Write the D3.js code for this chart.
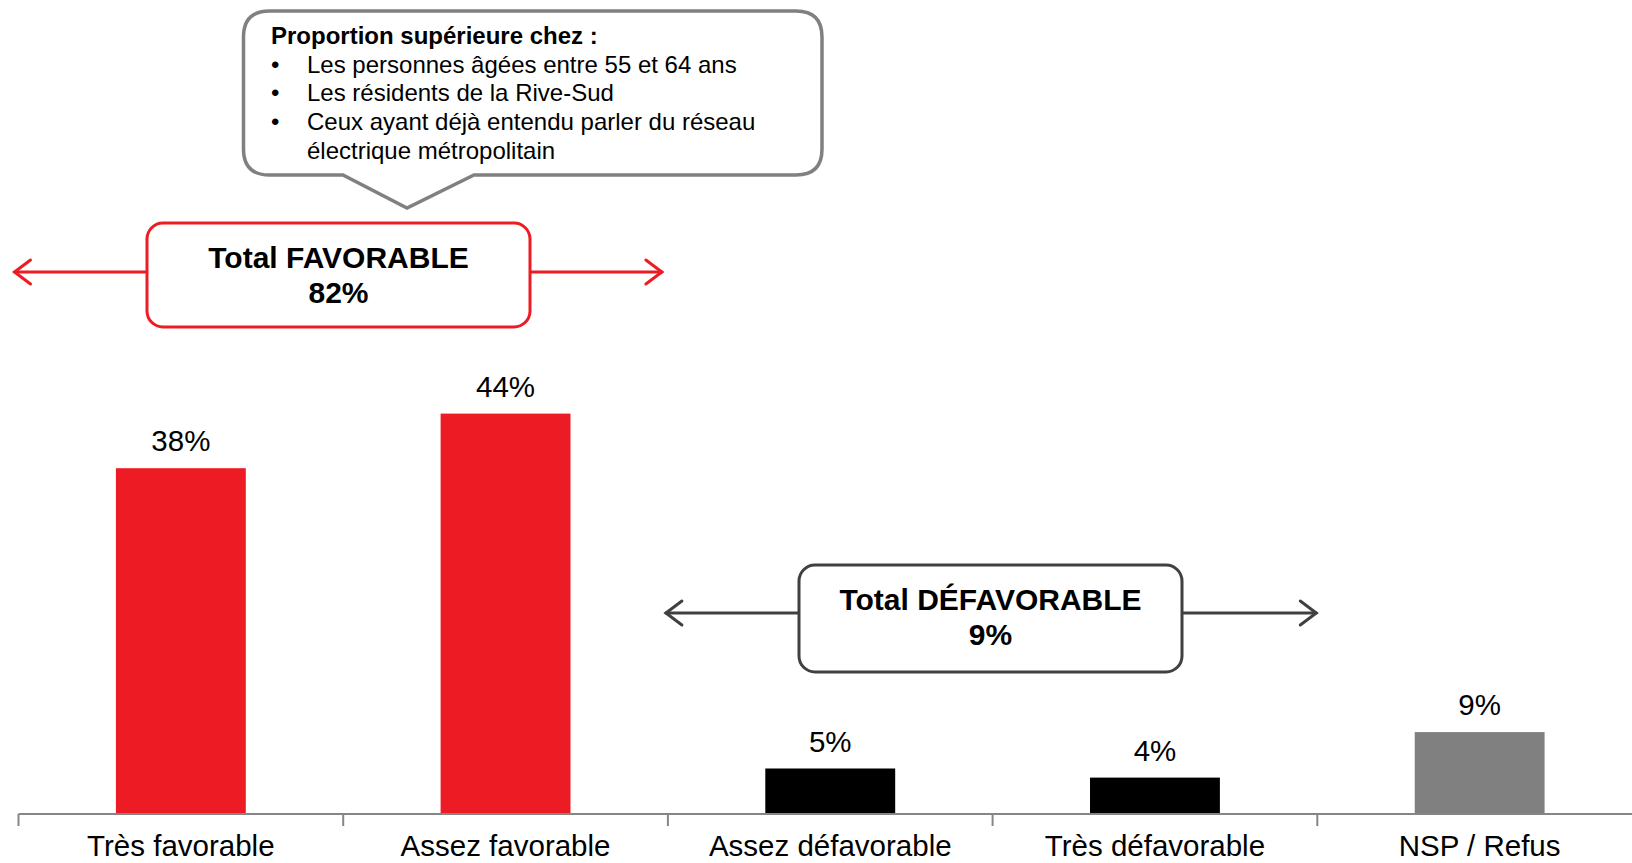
<!DOCTYPE html>
<html><head><meta charset="utf-8">
<script src="https://cdn.jsdelivr.net/npm/d3@7"></script>
<style>body{margin:0;background:#fff}svg{display:block;font-family:"Liberation Sans",Arial,sans-serif}</style>
</head><body>
<svg id="c" width="1632" height="863"></svg>
<script>
const categories = ["Très favorable","Assez favorable","Assez défavorable","Très défavorable","NSP / Refus"];
const values = [38,44,5,4,9];
const barColors = ["#ED1C24","#ED1C24","#000000","#000000","#808080"];
const calloutTitle = "Proportion supérieure chez :";
const calloutBullets = [["Les personnes âgées entre 55 et 64 ans"],["Les résidents de la Rive-Sud"],["Ceux ayant déjà entendu parler du réseau","électrique métropolitain"]];
const favTotal = {label:"Total FAVORABLE", value:"82%"};
const defTotal = {label:"Total DÉFAVORABLE", value:"9%"};

const svg = d3.select("#c");
const baseY = 814;
const x = d3.scaleBand().domain(categories).range([18.5,1642]).paddingInner(0.6).paddingOuter(0.3);
const y = d3.scaleLinear().domain([0,50]).range([baseY, baseY-455]);
const step = x.step();
const bound = i => x(categories[0]) - step*0.3 + i*step;

// bars
svg.selectAll("rect.bar").data(values).join("rect").attr("class","bar")
  .attr("x",(d,i)=>x(categories[i])).attr("width",x.bandwidth())
  .attr("y",d=>y(d)).attr("height",d=>baseY-y(d)).attr("fill",(d,i)=>barColors[i]);
svg.selectAll("text.val").data(values).join("text").attr("class","val")
  .attr("x",(d,i)=>x(categories[i])+x.bandwidth()/2).attr("y",d=>y(d)-17)
  .attr("text-anchor","middle").attr("font-size",29.5).attr("fill","#000").text(d=>d+"%");

// axis
const ax = svg.append("g").attr("transform",`translate(0,${baseY})`);
ax.append("line").attr("x1",bound(0)).attr("x2",1632).attr("stroke","#868686").attr("stroke-width",2);
for(let i=0;i<5;i++){
  ax.append("line").attr("x1",bound(i)).attr("x2",bound(i)).attr("y1",0).attr("y2",12).attr("stroke","#868686").attr("stroke-width",2);
}
svg.selectAll("text.cat").data(categories).join("text").attr("class","cat")
  .attr("x",d=>x(d)+x.bandwidth()/2).attr("y",856).attr("text-anchor","middle")
  .attr("font-size",29.5).attr("fill","#000").text(d=>d);

// double arrow helper
function dblArrow(x1,x2,yy,color){
  const g = svg.append("g").attr("stroke",color).attr("stroke-width",3).attr("fill","none").attr("stroke-linecap","round");
  g.append("line").attr("x1",x1).attr("x2",x2).attr("y1",yy).attr("y2",yy);
  g.append("path").attr("d",`M${x1+16},${yy-12} L${x1},${yy} L${x1+16},${yy+12}`);
  g.append("path").attr("d",`M${x2-16},${yy-12} L${x2},${yy} L${x2-16},${yy+12}`);
}
function totalBox(bx,by,bw,bh,color,t){
  svg.append("rect").attr("x",bx).attr("y",by).attr("width",bw).attr("height",bh).attr("rx",16)
    .attr("fill","#fff").attr("stroke",color).attr("stroke-width",3);
  const cx = bx+bw/2;
  svg.append("text").attr("x",cx).attr("y",by+45).attr("text-anchor","middle").attr("font-weight","bold").attr("font-size",30).text(t.label);
  svg.append("text").attr("x",cx).attr("y",by+80).attr("text-anchor","middle").attr("font-weight","bold").attr("font-size",30).text(t.value);
}
dblArrow(bound(0)-4, bound(2)-6, 272, "#ED1C24");
totalBox(147,223,383,104,"#ED1C24",favTotal);
dblArrow(bound(2)-2, bound(4)-1, 613, "#404040");
totalBox(799,565,383,107,"#404040",defTotal);

// callout
const L=243.5,R=822,T=11,B=175,r=26;
const pl=343,pr=474,tipx=407,tipy=208;
svg.append("path").attr("d",
  `M${L+r},${T} H${R-r} Q${R},${T} ${R},${T+r} V${B-r} Q${R},${B} ${R-r},${B} H${pr} L${tipx},${tipy} L${pl},${B} H${L+r} Q${L},${B} ${L},${B-r} V${T+r} Q${L},${T} ${L+r},${T} Z`)
  .attr("fill","#fff").attr("stroke","#808080").attr("stroke-width",3.5);
svg.append("text").attr("x",271).attr("y",44).attr("font-weight","bold").attr("font-size",24).text(calloutTitle);
let ly = 44;
calloutBullets.forEach(b=>{
  b.forEach((line,j)=>{
    ly += 28.7;
    if(j===0) svg.append("text").attr("x",271).attr("y",ly).attr("font-size",24).text("•");
    svg.append("text").attr("x",307).attr("y",ly).attr("font-size",24).text(line);
  });
});
</script>
</body></html>
